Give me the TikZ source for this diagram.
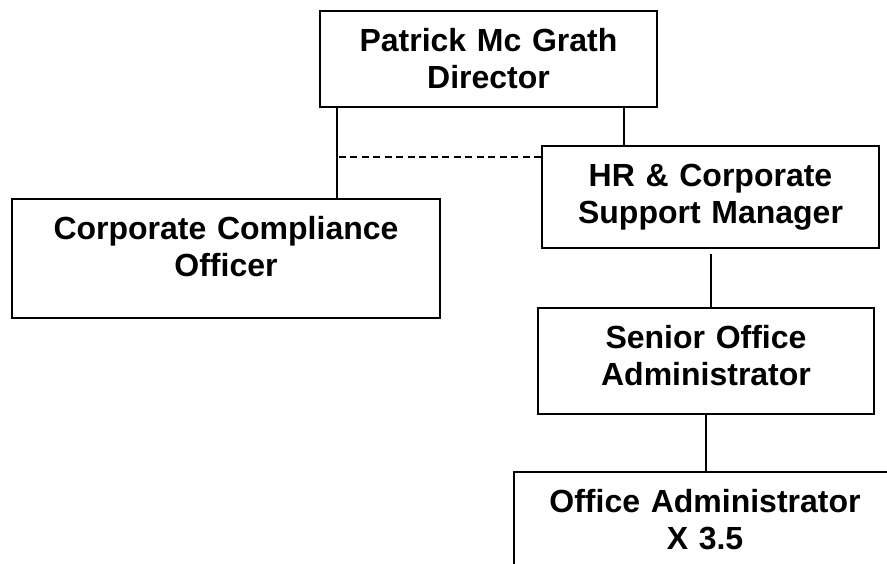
\documentclass[tikz,border=0pt]{standalone}
\usepackage{fontspec}
\setmainfont{Liberation Sans}
\begin{document}
\begin{tikzpicture}[x=1pt, y=-1pt,
  post/.style={draw, rectangle, line width=2pt, align=center, anchor=north,
    inner xsep=0pt, inner ysep=17pt, text height=23pt,
    font=\fontsize{32}{37}\selectfont\bfseries},
  link/.style={line width=2pt}]
\useasboundingbox (0,0) rectangle (887,563);
\clip (0,0) rectangle (887,563);

\node[post, text width=337pt, text depth=39pt] (dir) at (488.5,10) {Patrick Mc Grath\\Director};

\node[post, text width=337pt, text depth=45pt] (hr) at (710.5,145) {HR \& Corporate\\Support Manager};

\node[post, text width=428pt, text depth=62pt] (comp) at (226,198) {Corporate Compliance\\Officer};

\node[post, text width=336pt, text depth=49pt] (sen) at (706,307) {Senior Office\\Administrator};

\node[post, text width=382pt, text depth=39pt] (off) at (705,471) {Office Administrator\\X 3.5};

\coordinate (dl) at ([xshift=18pt]dir.south west);
\coordinate (dr) at ([xshift=-34pt]dir.south east);
\coordinate (hrd) at ([yshift=-12pt]hr.north west);

\draw[link] (dl) -- (dl |- comp.north);
\draw[link] (dr) -- (dr |- hr.north);
\draw[link, dash pattern=on 7pt off 4.5pt] (hrd) -- (dl |- hrd);
\draw[link] ([yshift=-5pt]hr.south) -- (hr.south |- sen.north);
\draw[link] (sen.south) -- (sen.south |- off.north);
\end{tikzpicture}
\end{document}
